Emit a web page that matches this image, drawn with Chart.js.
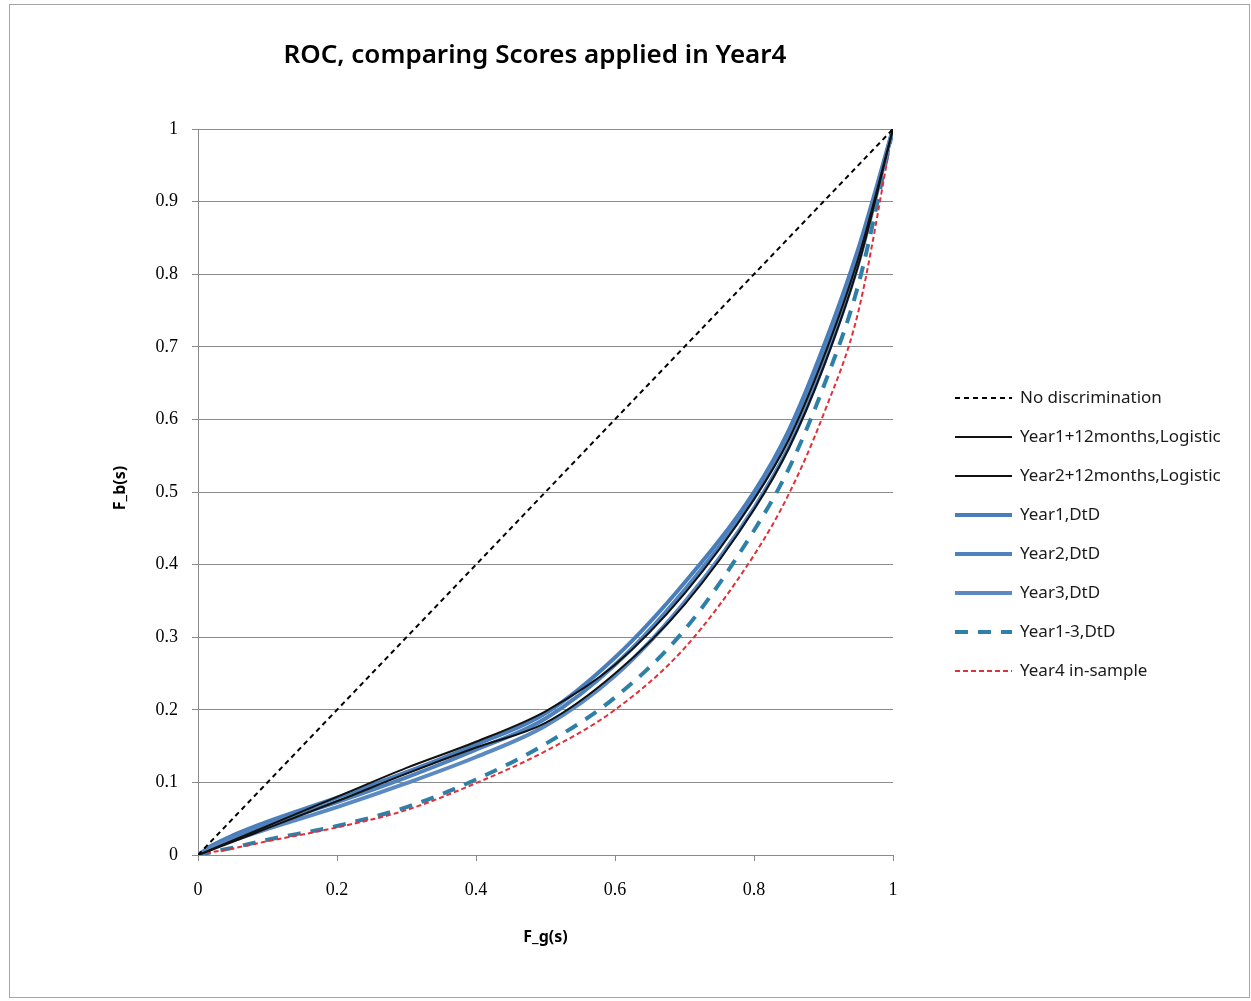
<!DOCTYPE html>
<html>
<head>
<meta charset="utf-8">
<script src="https://cdn.jsdelivr.net/npm/chart.js@4.4.0/dist/chart.umd.min.js"></script>
<style>
  html, body { margin: 0; padding: 0; background: #fff; }
  #wrap { width: 1251px; height: 1001px; }
</style>
</head>
<body>
<div id="wrap"><canvas id="roc" width="1251" height="1001"></canvas></div>
<script>
// F_g(s) grid shared by the ROC curves
const fg = [0, 0.02, 0.05, 0.1, 0.2, 0.3, 0.4, 0.5, 0.6, 0.7, 0.8, 0.85, 0.9, 0.95, 1];

// F_b(s) for each score
const noDiscX = [0, 1];
const noDiscY = [0, 1];
const logit1 = [0, 0.008, 0.02, 0.04, 0.08, 0.12, 0.156, 0.198, 0.262, 0.36, 0.49, 0.572, 0.685, 0.822, 1];
const logit2 = [0, 0.007, 0.018, 0.037, 0.074, 0.112, 0.148, 0.182, 0.25, 0.345, 0.476, 0.56, 0.672, 0.812, 1];
const dtd1 = [0, 0.013, 0.027, 0.046, 0.079, 0.114, 0.152, 0.195, 0.272, 0.375, 0.5, 0.585, 0.7, 0.835, 1];
const dtd2 = [0, 0.011, 0.024, 0.042, 0.073, 0.107, 0.145, 0.188, 0.262, 0.365, 0.492, 0.576, 0.69, 0.826, 1];
const dtd3 = [0, 0.009, 0.02, 0.036, 0.066, 0.099, 0.135, 0.178, 0.247, 0.348, 0.478, 0.562, 0.675, 0.815, 1];
const dtd13 = [0, 0.004, 0.01, 0.021, 0.04, 0.066, 0.104, 0.153, 0.217, 0.31, 0.447, 0.532, 0.645, 0.785, 1];
const year4 = [0, 0.004, 0.009, 0.019, 0.038, 0.062, 0.099, 0.143, 0.2, 0.285, 0.413, 0.497, 0.607, 0.748, 1];

const seriesNames = [
  'No discrimination',
  'Year1+12months,Logistic',
  'Year2+12months,Logistic',
  'Year1,DtD',
  'Year2,DtD',
  'Year3,DtD',
  'Year1-3,DtD',
  'Year4 in-sample'
];

const pts = (xs, ys) => xs.map((x, i) => ({ x: x, y: ys[i] }));

const datasets = [
  { label: seriesNames[0], data: pts(noDiscX, noDiscY), borderColor: '#000', borderWidth: 2, borderDash: [5, 4], order: 1 },
  { label: seriesNames[1], data: pts(fg, logit1), borderColor: '#111', borderWidth: 2, order: 2 },
  { label: seriesNames[2], data: pts(fg, logit2), borderColor: '#111', borderWidth: 2, order: 3 },
  { label: seriesNames[3], data: pts(fg, dtd1), borderColor: '#4a7ebb', borderWidth: 4, order: 6 },
  { label: seriesNames[4], data: pts(fg, dtd2), borderColor: '#4f81bd', borderWidth: 4, order: 5 },
  { label: seriesNames[5], data: pts(fg, dtd3), borderColor: '#5b8ac3', borderWidth: 4, order: 4 },
  { label: seriesNames[6], data: pts(fg, dtd13), borderColor: '#2f80a8', borderWidth: 4, borderDash: [13, 10], order: 8 },
  { label: seriesNames[7], data: pts(fg, year4), borderColor: '#e0313b', borderWidth: 2, borderDash: [5, 3], order: 7 }
];
datasets.forEach(d => { d.fill = false; d.pointRadius = 0; d.cubicInterpolationMode = 'monotone'; });

const gridColor = '#8a8a8a';
const tickFont = { family: '"Liberation Serif", serif', size: 18 };
const tickText = v => String(Math.round(v * 10) / 10);

// title, axis titles, legend and frame
const decor = {
  id: 'decor',
  afterDraw(chart) {
    const ctx = chart.ctx;
    const area = chart.chartArea;
    ctx.save();

    ctx.strokeStyle = '#a6a6a6';
    ctx.lineWidth = 1;
    ctx.strokeRect(9.5, 4.5, 1240, 993);

    ctx.fillStyle = '#000';
    ctx.textAlign = 'center';
    ctx.textBaseline = 'middle';
    ctx.font = '600 26px "Noto Sans", sans-serif';
    ctx.fillText('ROC, comparing Scores applied in Year4', 535, 56);

    ctx.font = 'bold 16px "Noto Sans", sans-serif';
    ctx.fillText('F_g(s)', (area.left + area.right) / 2, 937);
    ctx.save();
    ctx.translate(120, 488);
    ctx.rotate(-Math.PI / 2);
    ctx.fillText('F_b(s)', 0, 0);
    ctx.restore();

    ctx.textAlign = 'left';
    ctx.font = '17px "Noto Sans", sans-serif';
    datasets.forEach((d, i) => {
      const y = 398 + i * 39;
      ctx.save();
      ctx.strokeStyle = d.borderColor;
      ctx.lineWidth = d.borderWidth;
      ctx.setLineDash(d.borderDash || []);
      ctx.beginPath();
      ctx.moveTo(955, y);
      ctx.lineTo(1012, y);
      ctx.stroke();
      ctx.restore();
      ctx.fillStyle = '#1a1a1a';
      ctx.fillText(d.label, 1020, y);
    });
    ctx.restore();
  }
};

new Chart(document.getElementById('roc'), {
  type: 'line',
  data: { datasets: datasets },
  plugins: [decor],
  options: {
    responsive: false,
    animation: false,
    layout: { padding: { top: 129, right: 358, bottom: 0, left: 0 } },
    plugins: { legend: { display: false }, title: { display: false }, tooltip: { enabled: false } },
    scales: {
      x: {
        type: 'linear', min: 0, max: 1,
        ticks: { stepSize: 0.2, padding: 18, color: '#000', font: tickFont, maxRotation: 0, callback: tickText },
        grid: { drawOnChartArea: false, drawTicks: true, tickLength: 6, color: gridColor },
        border: { color: gridColor, width: 1 },
        afterFit: s => { s.height = 146; }
      },
      y: {
        type: 'linear', min: 0, max: 1,
        ticks: { stepSize: 0.1, padding: 14, color: '#000', font: tickFont, callback: tickText },
        grid: { color: gridColor, tickLength: 6 },
        border: { color: gridColor, width: 1 },
        afterFit: s => { s.width = 198; }
      }
    }
  }
});
</script>
</body>
</html>
